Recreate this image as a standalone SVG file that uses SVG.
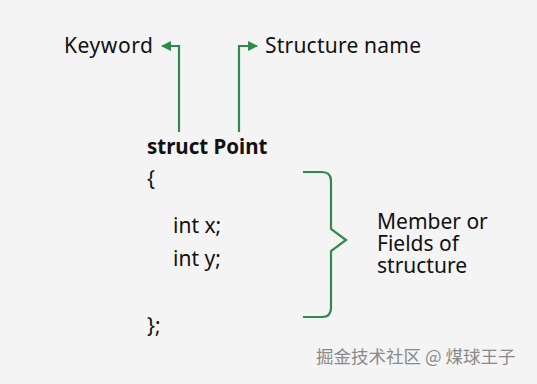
<svg xmlns="http://www.w3.org/2000/svg" width="537" height="384" viewBox="0 0 537 384">
<style>
.t{font-family:"Noto Sans","Open Sans",sans-serif;font-size:21px;fill:#111}
.b{font-weight:bold;font-size:20.5px}
.c{fill:none;stroke:#2e8b4e;stroke-width:2.2}
.w{font-family:"Noto Sans CJK SC",sans-serif;font-size:17.5px;fill:#8a8a8a}
</style>
<defs>
<marker id="ah" viewBox="0 0 10 10" refX="9" refY="5" markerWidth="4.5" markerHeight="4.5" orient="auto">
<path d="M0,0 L10,5 L0,10 z" fill="#2e8b4e"/>
</marker>
</defs>
<rect width="537" height="384" fill="#f4f4f4"/>
<g id="keyword"><text class="t" x="64" y="53" textLength="89">Keyword</text></g>
<g id="structure-name"><text class="t" x="265" y="53" textLength="156">Structure name</text></g>
<g id="code">
<text class="t b" x="147" y="154">struct Point</text>
<text class="t" x="147" y="186">{</text>
<text class="t" x="173" y="233">int x;</text>
<text class="t" x="173" y="266">int y;</text>
<text class="t" x="147" y="333">};</text>
</g>
<g id="members"><text class="t" x="377" y="229">Member or</text>
<text class="t" x="377" y="251">Fields of</text>
<text class="t" x="377" y="273">structure</text></g>
<g id="connectors">
<path class="c" d="M179,132 V46 H162" marker-end="url(#ah)"/>
<path class="c" d="M239,132 V46 H257" marker-end="url(#ah)"/>
<path class="c" d="M303,172 H322 Q331,172 331,181 V229 L346,240 L331,251 V308 Q331,317 322,317 H303"/>
</g>
<text class="w" x="316" y="363">掘金技术社区 @ 煤球王子</text>
</svg>
